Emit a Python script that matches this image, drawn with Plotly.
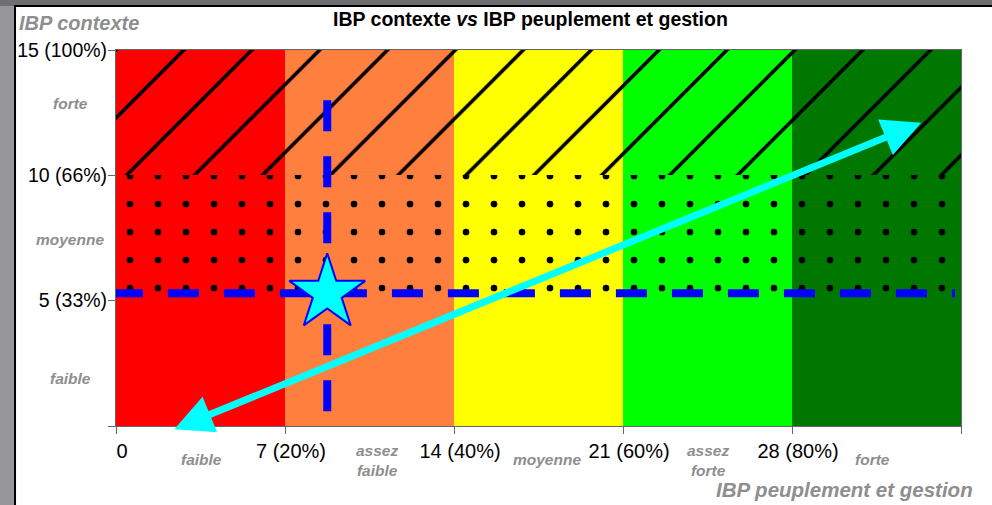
import plotly.graph_objects as go

# ---------------- data ----------------
x_edges = [0, 7, 14, 21, 28, 35]
x_tick_text = ["0", "7 (20%)", "14 (40%)", "21 (60%)", "28 (80%)", "35 (100%)"]
y_edges = [0, 5, 10, 15]
y_tick_text = ["", "5 (33%)", "10 (66%)", "15 (100%)"]
band_colors = ["#FF0000", "#FF7F3F", "#FFFF00", "#00FF00", "#007800"]
x_class_labels = ["faible", "assez<br>faible", "moyenne", "assez<br>forte", "forte"]
x_class_pos = [3.55, 10.8, 17.85, 24.5, 31.35]
y_class_labels = ["faible", "moyenne", "forte"]
y_class_pos = [1.9, 7.45, 12.85]
point_x = 8.75
point_y = 5.3
vline_y = [13.0, -1.64]
hline_x = [-0.17, 34.75]
arrow_tail = [2.35, -0.15]
arrow_head = [33.35, 12.1]
title_text = "<b>IBP contexte <i>vs</i> IBP peuplement et gestion</b>"
x_title = "IBP peuplement et gestion"
y_title = "IBP contexte"

# ---------------- figure ----------------
FONT = "Liberation Sans, Arial, sans-serif"
GRAY = "#8E8E8E"

centers = [(a + b) / 2 for a, b in zip(x_edges[:-1], x_edges[1:])]
widths = [b - a for a, b in zip(x_edges[:-1], x_edges[1:])]
n = len(centers)
full_h = y_edges[-1] - y_edges[0]

fig = go.Figure()
# colour bands (full height)
fig.add_trace(go.Bar(
    x=centers, y=[full_h] * n, base=[y_edges[0]] * n, width=widths,
    marker=dict(color=band_colors, line=dict(width=0)),
    hoverinfo="skip", showlegend=False,
))
# texture layers: dots in the middle band, hatching in the top band
band_patterns = {
    1: dict(shape=".", fillmode="replace", size=28, solidity=0.045),
    2: dict(shape="/", fillmode="replace", size=48, solidity=0.075),
}
for i, pat in band_patterns.items():
    h = y_edges[i + 1] - y_edges[i]
    fig.add_trace(go.Bar(
        x=centers, y=[h] * n, base=[y_edges[i]] * n, width=widths,
        marker=dict(color="black", line=dict(width=0), pattern=pat),
        hoverinfo="skip", showlegend=False,
    ))

# dashed guide lines through the point
fig.add_trace(go.Scatter(
    x=hline_x, y=[point_y, point_y], mode="lines", cliponaxis=False,
    line=dict(color="#0000FF", width=8, dash="31px,25px"),
    hoverinfo="skip", showlegend=False,
))
fig.add_trace(go.Scatter(
    x=[point_x, point_x], y=vline_y, mode="lines", cliponaxis=False,
    line=dict(color="#0000FF", width=8, dash="31px,25px"),
    hoverinfo="skip", showlegend=False,
))
# star
fig.add_trace(go.Scatter(
    x=[point_x], y=[point_y], mode="markers", cliponaxis=False,
    marker=dict(symbol="star", size=57, color="#00FFFF",
                line=dict(color="#0000FF", width=2)),
    hoverinfo="skip", showlegend=False,
))

annotations = []
# double-headed cyan arrow
annotations.append(dict(
    x=arrow_head[0], y=arrow_head[1], ax=arrow_tail[0], ay=arrow_tail[1],
    xref="x", yref="y", axref="x", ayref="y", text="", showarrow=True,
    arrowhead=2, startarrowhead=2, arrowside="end+start",
    arrowsize=1.1, startarrowsize=1.1, arrowwidth=7, arrowcolor="#00FFFF",
))
# class labels on x
for lab, xp in zip(x_class_labels, x_class_pos):
    two = "<br>" in lab
    annotations.append(dict(
        x=xp, y=-0.092 if two else -0.088, xref="x", yref="paper", text=f"<b><i>{lab}</i></b>",
        showarrow=False, xanchor="center", yanchor="middle",
        font=dict(family=FONT, size=15.5, color=GRAY),
    ))
# class labels on y
for lab, yp in zip(y_class_labels, y_class_pos):
    annotations.append(dict(
        x=-0.054, y=yp, xref="paper", yref="y", text=f"<b><i>{lab}</i></b>",
        showarrow=False, xanchor="center", yanchor="middle",
        font=dict(family=FONT, size=15.5, color=GRAY),
    ))
# titles
annotations.append(dict(
    x=0.49, y=1.0824, xref="paper", yref="paper", text=title_text, showarrow=False,
    xanchor="center", yanchor="middle", font=dict(family=FONT, size=19.5, color="black"),
))
annotations.append(dict(
    x=-0.117, y=1.0718, xref="paper", yref="paper", text=f"<b><i>{y_title}</i></b>",
    showarrow=False, xanchor="left", yanchor="middle",
    font=dict(family=FONT, size=20, color=GRAY),
))
annotations.append(dict(
    x=0.8627, y=-0.170, xref="paper", yref="paper", text=f"<b><i>{x_title}</i></b>",
    showarrow=False, xanchor="center", yanchor="middle",
    font=dict(family=FONT, size=20.5, color=GRAY),
))

shapes = [
    # top dark strip
    dict(type="rect", xref="paper", yref="paper", x0=-0.2, x1=1.1, y0=1.117, y1=1.2,
         fillcolor="#6F6F72", line=dict(width=0), layer="below"),
    # white panel
    dict(type="rect", xref="paper", yref="paper", x0=-0.1195, x1=1.1, y0=-0.3, y1=1.117,
         fillcolor="white", line=dict(color="black", width=2), layer="below"),
]

fig.update_layout(
    width=992, height=505,
    margin=dict(l=116, r=31, t=50, b=79, autoexpand=False),
    paper_bgcolor="#97979B", plot_bgcolor="white",
    barmode="overlay", bargap=0,
    showlegend=False,
    annotations=annotations, shapes=shapes,
    font=dict(family=FONT, size=20, color="black"),
    xaxis=dict(range=[x_edges[0], x_edges[-1]], tickvals=x_edges, ticktext=x_tick_text,
               showgrid=False, zeroline=False, showline=True, linecolor="#666666", linewidth=1,
               mirror=True, ticks="outside", ticklen=7, tickcolor="#666666",
               tickfont=dict(family=FONT, size=20, color="black"), ticklabelshift=6),
    yaxis=dict(range=[y_edges[0], y_edges[-1]], tickvals=y_edges, ticktext=y_tick_text,
               showgrid=False, zeroline=False, showline=True, linecolor="#666666", linewidth=1,
               mirror=True, ticks="outside", ticklen=7, tickcolor="#666666",
               ticklabelstandoff=-3,
               tickfont=dict(family=FONT, size=19.5, color="black")),
)

fig.write_html(
    "out.html",
    config={"displayModeBar": False},
    post_script="document.body.style.margin='0px';document.body.style.overflow='hidden';",
)
